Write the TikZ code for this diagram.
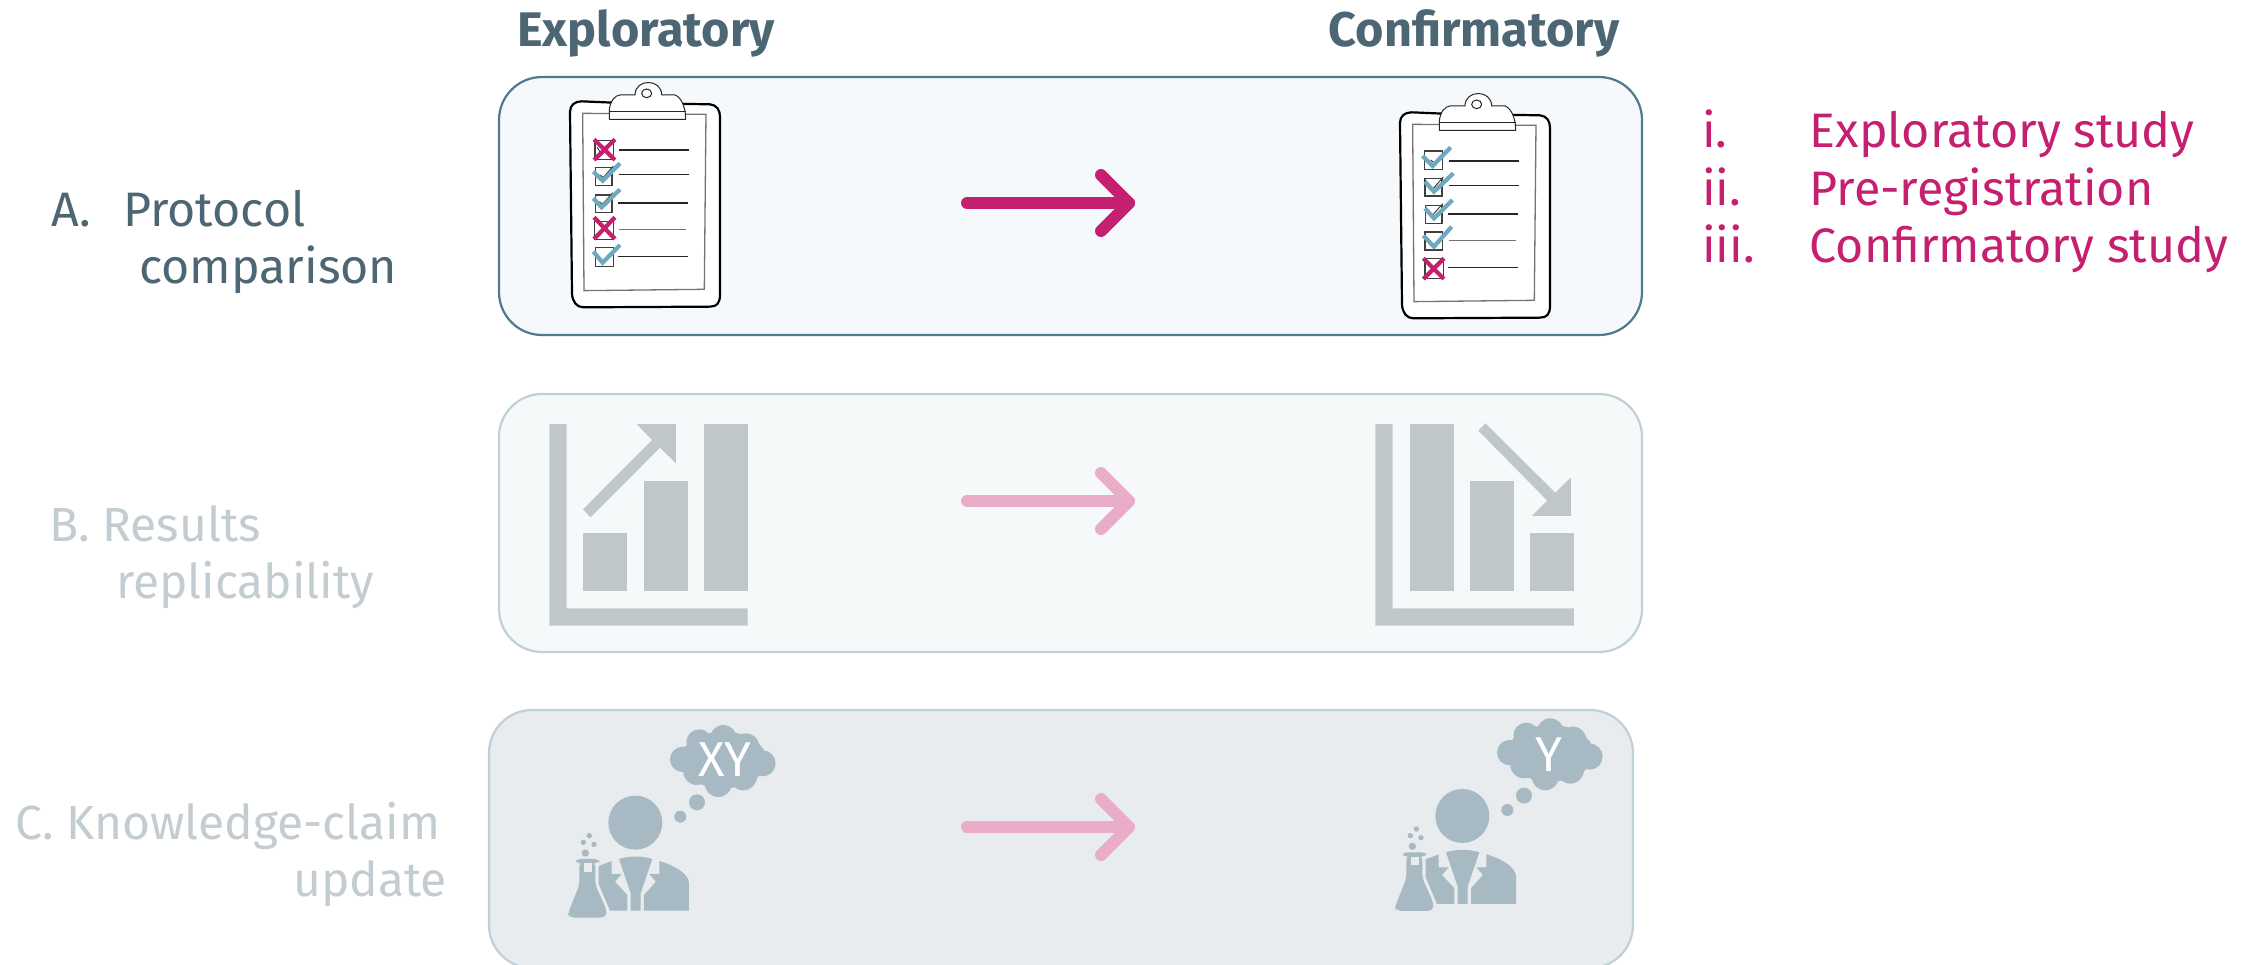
\documentclass[tikz,border=0pt]{standalone}
\usepackage{fontspec}
\setmainfont{Fira Sans}
\definecolor{magent}{HTML}{C4206F}
\definecolor{magentl}{HTML}{EAADC9}
\definecolor{tealck}{HTML}{6FA9C0}
\definecolor{bordA}{HTML}{4F7A8C}
\definecolor{fillA}{HTML}{F5F9FC}
\definecolor{bordB}{HTML}{BFD0D6}
\definecolor{fillB}{HTML}{F5F9FA}
\definecolor{fillC}{HTML}{E9ECEF}
\definecolor{iconB}{HTML}{C0C7CB}
\definecolor{iconC}{HTML}{A7B9C3}
\definecolor{headtxt}{HTML}{4D6673}
\definecolor{fadetxt}{HTML}{C3CCD1}
\tikzset{
 panel/.style={rounded corners=43pt,line width=2.2pt},
 flow/.style={line width=12pt,line cap=round,line join=round},
 lab/.style={anchor=base west,inner sep=0pt,font=\fontsize{48.4}{50}\selectfont},
 fadelab/.style={anchor=base west,inner sep=0pt,font=\fontsize{47.9}{50}\selectfont,text=fadetxt},
 headlab/.style={anchor=base,inner sep=0pt,font=\fontsize{48.6}{50}\selectfont\bfseries,text=headtxt},
 unit/.style={x=0.3333pt,y=-0.3333pt},
 tickmark/.style={draw=tealck,line width=4.2pt},
 crossmark/.style={draw=magent,line width=4.2pt},
 minibox/.style={draw=black!75,line width=1.3pt,fill=white},
 rowline/.style={draw=black!85,line width=1.2pt},
 inkmark/.style={draw=black!80,line width=0.9pt}
}
\newcommand{\clipbase}{%
 \draw[black,line width=2.2pt,fill=white,line join=round] (150,155) .. controls (150,135) and (165,124) .. (185,124) -- (280,128) -- (570,133) .. controls (590,135) and (600,150) .. (600,170) -- (600,705) .. controls (600,730) and (590,740) .. (570,740) -- (190,742) .. controls (170,742) and (157,725) .. (156,700) -- cycle;
 \draw[black!55,line width=1.3pt] (188,160) -- (558,163) -- (553,688) -- (192,692) -- cycle;
 \draw[black!85,line width=1pt,fill=white,line join=round] (268,178) -- (268,150) .. controls (270,125) and (285,105) .. (300,105) -- (345,105) .. controls (345,55) and (425,55) .. (425,105) -- (465,105) .. controls (480,110) and (497,135) .. (497,178) -- cycle;
 \draw[black!85,line width=1pt] (268,155) -- (497,155);
 \draw[black!85,line width=1pt] (380,100) ellipse (15 and 13);
 \draw[rowline] (297,270) -- (507,270);
 \draw[rowline] (297,344) -- (507,344);
 \draw[rowline] (294,429) -- (503,429);
 \draw[rowline,draw=black!55] (296,509) -- (497,509);
 \draw[rowline] (294,589) -- (503,589);
}
\newcommand{\barfill}[1]{\fill[iconB] #1;}
\newcommand{\scientist}[3]{%
 \begin{scope}[shift={(#1)},unit,iconC]
  \fill (286,368) circle (81);
  \fill (176,498) -- (215,483) -- (215,522) -- (245,522) -- (225,545) -- (262,585) -- (262,632) -- (210,632) -- (176,552) -- cycle;
  \fill (237,477) .. controls (270,467) and (305,467) .. (337,477) -- (302,580) -- (302,632) -- (272,632) -- (272,580) -- cycle;
  \fill (358,483) .. controls (400,495) and (447,520) .. (447,550) -- (447,632) -- (312,632) -- (312,585) -- (348,545) -- (328,522) -- (358,522) -- cycle;
  \fill[rounded corners=4pt] (108,477) rectangle (177,490);
  \fill[rounded corners=5pt] (118,485) -- (118,555) -- (84,640) -- (86,653) -- (198,653) -- (200,630) -- (166,555) -- (166,485) -- cycle;
  \fill[fillC] (131,490) rectangle (155,515);
  \fill (136,459) circle (11);
  \fill (130,427) circle (8);
  \fill (148,407) circle (8);
  \fill (162,433) circle (8);
  \fill (428,178) circle (38);
  \fill (478,127) circle (39);
  \fill (550,115) circle (40);
  \fill (618,140) circle (40);
  \fill (668,190) circle (39);
  \fill (610,230) circle (41);
  \fill (535,250) circle (41);
  \fill (470,215) circle (40);
  \fill (550,180) ellipse (130 and 85);
  \fill (421,350) circle (18);
  \fill (471,307) circle (24);
  \node[inner sep=0pt,text=white,font=\fontsize{49}{50}\selectfont] (#2) at (#3) {#2};
 \end{scope}}
\begin{document}
\begin{tikzpicture}[x=1pt,y=-1pt]
\useasboundingbox (0,0) rectangle (2254,964);
\clip (0,0) rectangle (2254,964);
% panels
\draw[panel,draw=bordA,fill=fillA] (499,77) rectangle (1642,335);
\draw[panel,draw=bordB,fill=fillB] (499,394) rectangle (1642,652);
\draw[panel,draw=bordB,fill=fillC] (489,710) rectangle (1633,968);
% headings
\node[headlab] (hE) at (646,46) {Exploratory};
\node[headlab] (hC) at (1474,46) {Confirmatory};
% row labels
\node[lab,text=headtxt] (la) at (51,226) {A.};
\node[lab,text=headtxt] (lb) at (123,226) {Protocol};
\node[lab,text=headtxt] (lc) at (139,283) {comparison};
\node[fadelab] (ld) at (49,541) {B. Results};
\node[fadelab] (le) at (116,598) {replicability};
\node[fadelab] (lf) at (15,839) {C. Knowledge-claim};
\node[fadelab] (lg) at (293,896) {update};
% list
\node[lab,text=magent] (i1) at (1702,147) {i.};
\node[lab,text=magent] (i2) at (1702,205) {ii.};
\node[lab,text=magent] (i3) at (1702,262) {iii.};
\node[lab,text=magent] (t1) at (1809.5,147) {Exploratory study};
\node[lab,text=magent] (t2) at (1809.5,205) {Pre-registration};
\node[lab,text=magent] (t3) at (1809.5,262) {Confirmatory study};
% arrows
\foreach \nm/\yy/\cc in {a/203/magent,b/501/magentl,c/827/magentl}{
 \coordinate (s\nm) at (967,\yy);
 \coordinate (e\nm) at (1129,\yy);
 \coordinate (u\nm) at (1101,\yy-28);
 \coordinate (d\nm) at (1101,\yy+28);
 \draw[flow,draw=\cc] (s\nm) -- (e\nm);
 \draw[flow,draw=\cc] (u\nm) -- (e\nm) -- (d\nm);
}
% clipboard left
\begin{scope}[shift={(520,60)},unit]
 \clipbase
 \draw[minibox] (225,242) rectangle (280,298);
 \draw[minibox] (226,322) rectangle (276,376);
 \draw[minibox] (226,405) rectangle (276,458);
 \draw[minibox] (224,484) rectangle (280,538);
 \draw[minibox] (226,563) rectangle (280,620);
 \draw[inkmark] (232,262) -- (245,285) -- (275,250);
 \draw[inkmark] (240,345) -- (250,352) -- (280,318);
 \draw[inkmark] (238,425) -- (248,432) -- (278,398);
 \draw[crossmark] (222,238) -- (285,300) (285,238) -- (222,300);
 \draw[tickmark] (220,335) -- (248,362) -- (300,310);
 \draw[tickmark] (220,415) -- (245,442) -- (300,388);
 \draw[crossmark] (222,472) -- (285,537) (285,472) -- (222,537);
 \draw[tickmark] (220,575) -- (248,608) -- (300,555);
\end{scope}
% clipboard right
\begin{scope}[shift={(1350,71)},unit]
 \clipbase
 \draw[minibox] (223,240) rectangle (278,295);
 \draw[minibox] (225,322) rectangle (276,375);
 \draw[minibox] (226,404) rectangle (276,457);
 \draw[minibox] (225,483) rectangle (278,537);
 \draw[minibox] (225,562) rectangle (280,622);
 \draw[inkmark] (242,267) -- (252,275) -- (280,245);
 \draw[inkmark] (240,345) -- (250,352) -- (280,318);
 \draw[inkmark] (238,425) -- (248,432) -- (278,398);
 \draw[tickmark] (218,255) -- (248,285) -- (302,229);
 \draw[tickmark] (225,332) -- (252,362) -- (310,307);
 \draw[tickmark] (225,412) -- (252,442) -- (307,387);
 \draw[tickmark] (220,494) -- (252,527) -- (305,467);
 \draw[crossmark] (220,562) -- (282,624) (282,562) -- (220,624);
\end{scope}
% chart left
\begin{scope}[shift={(520,400)},unit]
 \barfill{(88,72) -- (140,72) -- (140,625) -- (683,625) -- (683,677) -- (88,677) -- cycle}
 \barfill{(189,399) rectangle (321,573)}
 \barfill{(372,243) rectangle (504,573)}
 \barfill{(552,72) rectangle (684,573)}
 \barfill{(189,328) -- (396,120) -- (350,72) -- (468,72) -- (468,190) -- (420,143) -- (212,352) -- cycle}
\end{scope}
% chart right
\begin{scope}[shift={(1350,400)},unit]
 \barfill{(76,72) -- (128,72) -- (128,625) -- (672,625) -- (672,677) -- (76,677) -- cycle}
 \barfill{(180,72) rectangle (312,573)}
 \barfill{(360,243) rectangle (492,573)}
 \barfill{(540,399) rectangle (672,573)}
 \barfill{(385,92) -- (406,70) -- (616,278) -- (663,232) -- (663,348) -- (546,348) -- (592,302) -- cycle}
\end{scope}
% scientists
\scientist{540,700}{XY}{555,178}
\scientist{1367,693.3}{Y}{546,183}
\end{tikzpicture}
\end{document}
